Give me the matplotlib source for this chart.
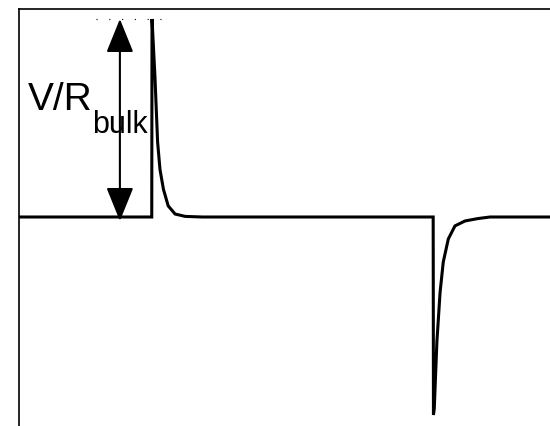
import matplotlib

matplotlib.use("Agg")
import matplotlib.pyplot as plt
from matplotlib.patches import FancyArrowPatch

# current trace (normalised: 1 = V/R_bulk), time in arbitrary units
t = [0, 25.0, 25.05, 25.6, 26.1, 26.55, 27.2, 28.1, 29.4, 31.3, 34.5,
     78.0, 78.05, 78.2, 78.7, 79.3, 79.9, 80.85, 82.1, 84.0, 86.4, 88.7, 100]
current = [0, 0, 1.0, 0.71, 0.38, 0.24, 0.14, 0.056, 0.015, 0.003, 0,
           0, -1.0, -0.97, -0.63, -0.38, -0.227, -0.111, -0.045, -0.02, -0.008, 0, 0]

arrow_t = 19.0
arrow_span = (-0.02, 1.0)
dot_t = (14.5, 26.7)
label_main = "V/R"
label_sub = "bulk"

fig = plt.figure(figsize=(5.5, 4.27), dpi=100)
ax = fig.add_axes([19 / 550, 0, 1 - 19 / 550, 1 - 10 / 427])
ax.set_xlim(0, 100)
ax.set_ylim(-(427 - 218) / 198, (218 - 10) / 198)

ax.plot(t, current, color="black", lw=2.2, solid_joinstyle="miter")

# dotted level marker at the peak
ax.plot(dot_t, [1.0, 1.0], color="black", lw=0.8, linestyle=(0, (1, 10.5)),
        dash_capstyle="butt")

arrow = FancyArrowPatch((arrow_t, arrow_span[0]), (arrow_t, arrow_span[1]),
                        arrowstyle="<|-|>,head_length=21,head_width=8.5",
                        mutation_scale=1, shrinkA=0, shrinkB=0,
                        color="black", lw=1.5)
ax.add_patch(arrow)

ax.text(1.7, 0.545, label_main, fontsize=28, family="Liberation Sans", va="baseline")
ax.text(13.75, 0.429, label_sub, fontsize=22, family="Liberation Sans", va="baseline")

ax.set_xticks([])
ax.set_yticks([])
for side in ("right", "bottom"):
    ax.spines[side].set_visible(False)
for side in ("left", "top"):
    ax.spines[side].set_linewidth(1.2)

fig.savefig("out.png", dpi=100)
plt.close(fig)
